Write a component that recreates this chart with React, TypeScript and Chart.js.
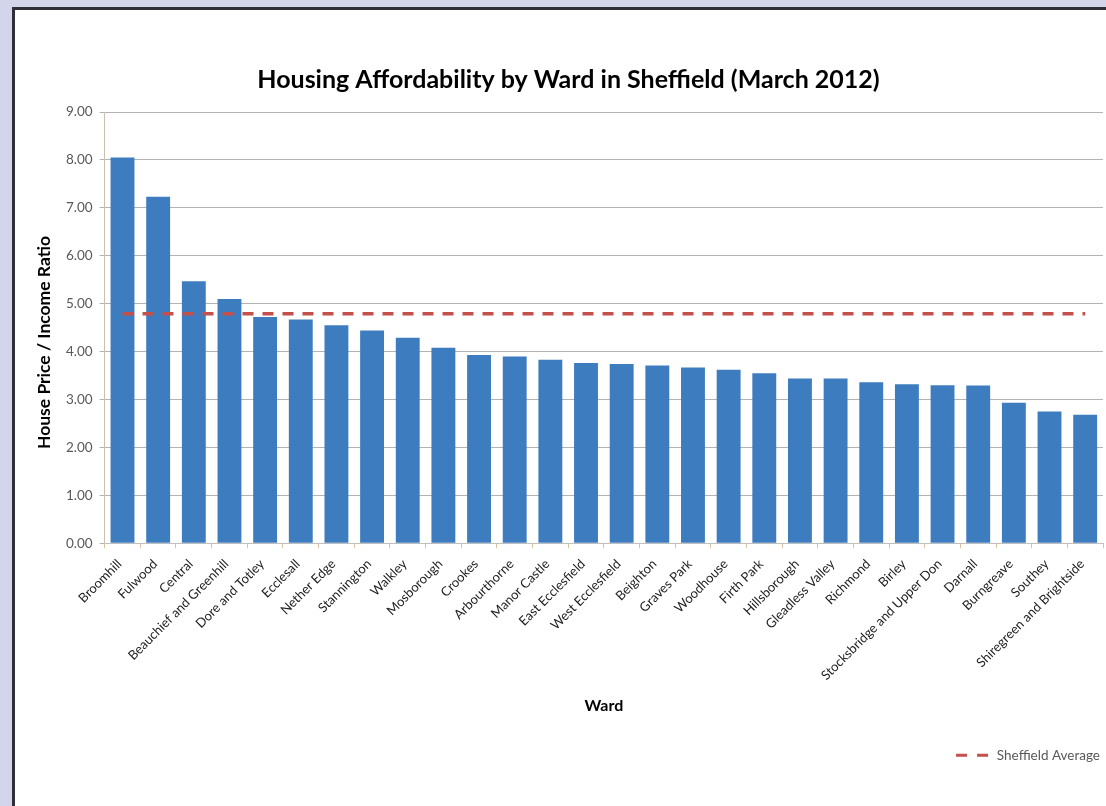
import React, { useEffect, useRef } from "react";
import { Chart, registerables } from "chart.js";

Chart.register(...registerables);

const wards: string[] = [
  "Broomhill",
  "Fulwood",
  "Central",
  "Beauchief and Greenhill",
  "Dore and Totley",
  "Ecclesall",
  "Nether Edge",
  "Stannington",
  "Walkley",
  "Mosborough",
  "Crookes",
  "Arbourthorne",
  "Manor Castle",
  "East Ecclesfield",
  "West Ecclesfield",
  "Beighton",
  "Graves Park",
  "Woodhouse",
  "Firth Park",
  "Hillsborough",
  "Gleadless Valley",
  "Richmond",
  "Birley",
  "Stocksbridge and Upper Don",
  "Darnall",
  "Burngreave",
  "Southey",
  "Shiregreen and Brightside",
];

const ratioValues: number[] = [
  8.05, 7.23, 5.47, 5.1, 4.72, 4.67, 4.55, 4.44, 4.29, 4.08, 3.93, 3.9, 3.83,
  3.76, 3.74, 3.71, 3.67, 3.62, 3.55, 3.44, 3.44, 3.36, 3.32, 3.3, 3.29, 2.93,
  2.75, 2.68,
];

const sheffieldAverage: number[] = [
  4.79, 4.79, 4.79, 4.79, 4.79, 4.79, 4.79, 4.79, 4.79, 4.79, 4.79, 4.79, 4.79,
  4.79, 4.79, 4.79, 4.79, 4.79, 4.79, 4.79, 4.79, 4.79, 4.79, 4.79, 4.79, 4.79,
  4.79, 4.79,
];

const titleText = "Housing Affordability by Ward in Sheffield (March 2012)";
const yTitle = "House Price / Income Ratio";
const xTitle = "Ward";
const avgLabel = "Sheffield Average";

export default function App() {
  const canvasRef = useRef<HTMLCanvasElement | null>(null);

  useEffect(() => {
    if (!canvasRef.current) return;
    Chart.defaults.font.family = "Lato, 'Liberation Sans', sans-serif";
    const baseGenerate = (Chart.defaults.plugins.legend.labels as any).generateLabels;
    const chart = new Chart(canvasRef.current, {
      type: "bar",
      data: {
        labels: wards,
        datasets: [
          {
            type: "line",
            label: avgLabel,
            data: sheffieldAverage,
            borderColor: "#c4504c",
            backgroundColor: "#c4504c",
            borderWidth: 3.5,
            borderDash: [11, 9],
            pointRadius: 0,
            pointHoverRadius: 0,
            pointStyle: "line",
            fill: false,
            order: 0,
          } as any,
          {
            type: "bar",
            label: "Ratio",
            data: ratioValues,
            backgroundColor: "#3e7cc0",
            borderWidth: 0,
            barPercentage: 0.67,
            categoryPercentage: 1,
            order: 1,
          },
        ],
      },
      options: {
        animation: false,
        responsive: false,
        maintainAspectRatio: false,
        layout: {
          padding: { left: 19, right: 32, top: 0, bottom: 34 },
        },
        plugins: {
          title: {
            display: true,
            text: titleText,
            color: "#000",
            font: { size: 25, weight: "bold" },
            padding: { top: 55, bottom: 17 },
          },
          legend: {
            display: true,
            position: "bottom",
            align: "end",
            labels: {
              generateLabels: (c: any) =>
                baseGenerate(c).map((it: any) => ({
                  ...it,
                  lineDash: [11, 10],
                  lineWidth: 3,
                  strokeStyle: "#c4504c",
                })),
              filter: (item: any) => item.text === avgLabel,
              usePointStyle: true,
              pointStyle: "line",
              pointStyleWidth: 34,
              color: "#595959",
              font: { size: 13.5 },
              padding: 3,
            },
          },
          tooltip: { enabled: false },
        },
        scales: {
          x: {
            offset: true,
            grid: {
              offset: true,
              drawOnChartArea: false,
              drawTicks: true,
              tickLength: 5,
              color: "#d9c4a2",
            },
            border: { color: "#bfbfbf" },
            ticks: {
              minRotation: 45,
              maxRotation: 45,
              autoSkip: false,
              color: "#222",
              font: { size: 13 },
              padding: 8,
              labelOffset: -3,
            },
            title: {
              display: true,
              text: xTitle,
              color: "#000",
              font: { size: 16, weight: "bold" },
              padding: { top: 5, bottom: 30 },
            },
          },
          y: {
            min: 0,
            max: 9,
            grid: {
              color: "#b3b3b3",
              tickLength: 5,
            },
            border: { color: "#c9c0b0" },
            ticks: {
              stepSize: 1,
              color: "#595959",
              font: { size: 13.5 },
              padding: 7,
              callback: (v: any) => Number(v).toFixed(2),
            },
            title: {
              display: true,
              text: yTitle + "       ",
              color: "#000",
              font: { size: 17.5, weight: "bold" },
              padding: { top: 0, bottom: 4 },
            },
          },
        },
      },
    });
    return () => chart.destroy();
  }, []);

  return (
    <div
      style={{
        position: "fixed",
        left: 0,
        top: 0,
        width: 1106,
        height: 806,
        background: "#d3d5ea",
        overflow: "hidden",
      }}
    >
      <div
        style={{
          position: "absolute",
          left: 12,
          top: 7,
          width: 1140,
          height: 840,
          background: "#ffffff",
          border: "3px solid #2e2f37",
          boxSizing: "content-box",
        }}
      >
        <canvas
          ref={canvasRef}
          width={1120}
          height={796}
          style={{ position: "absolute", left: 0, top: 0, width: 1120, height: 796 }}
        />
      </div>
    </div>
  );
}
